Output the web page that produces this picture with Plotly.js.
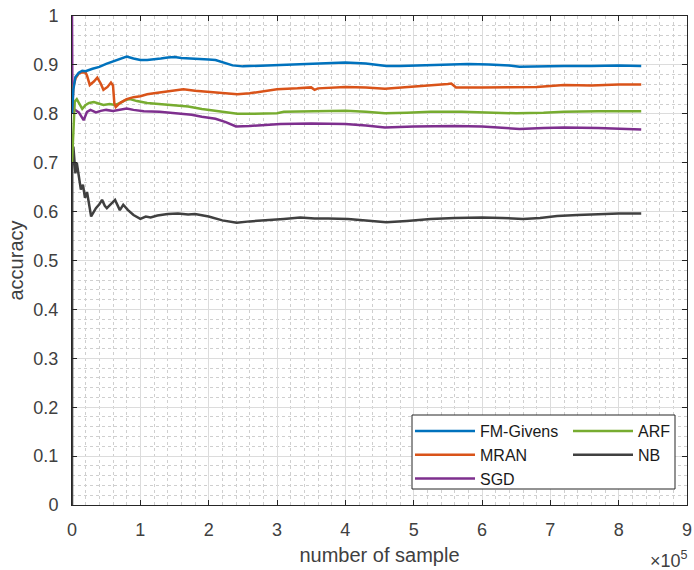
<!DOCTYPE html>
<html>
<head>
<meta charset="utf-8">
<script src="https://cdn.plot.ly/plotly-3.0.1.min.js"></script>
<style>html,body{margin:0;padding:0;background:#fff;}#chart{width:694px;height:570px;}</style>
</head>
<body>
<div id="chart"></div>
<script>
// x positions are in number of samples
var fmX = [0,2000,5000,10000,15000,20000,30000,40000,50000,60000,70000,80000,90000,100000,110000,120000,130000,140000,150000,160000,180000,190000,200000,210000,220000,235000,250000,270000,300000,330000,360000,400000,430000,450000,460000,480000,520000,550000,580000,610000,640000,655000,680000,720000,760000,800000,833000];
var fmY = [0.80,0.85,0.875,0.884,0.888,0.887,0.892,0.896,0.902,0.907,0.913,0.917,0.913,0.910,0.910,0.911,0.913,0.915,0.916,0.914,0.913,0.913,0.911,0.910,0.905,0.899,0.897,0.898,0.900,0.902,0.904,0.905,0.903,0.900,0.898,0.898,0.900,0.901,0.902,0.901,0.899,0.896,0.897,0.898,0.898,0.899,0.898];

var mranX = [0,2000,5000,10000,15000,20000,22000,26000,32000,37000,42000,46000,52000,57000,60000,62000,64000,70000,80000,90000,100000,110000,120000,135000,150000,163000,180000,200000,220000,242000,260000,280000,300000,330000,350000,355000,360000,400000,430000,458000,490000,520000,550000,555000,562000,600000,650000,680000,720000,760000,800000,833000];
var mranY = [0.80,0.855,0.872,0.883,0.885,0.884,0.878,0.859,0.866,0.874,0.862,0.849,0.855,0.864,0.858,0.821,0.814,0.822,0.830,0.834,0.836,0.840,0.842,0.845,0.848,0.850,0.847,0.845,0.843,0.840,0.842,0.846,0.850,0.852,0.854,0.849,0.852,0.855,0.854,0.851,0.854,0.857,0.861,0.862,0.854,0.854,0.855,0.855,0.859,0.858,0.860,0.860];

var arfX = [0,2000,4000,7000,10000,15000,20000,25000,32000,40000,46000,55000,63000,70000,78000,85000,95000,110000,128000,150000,170000,190000,210000,230000,242000,260000,280000,300000,310000,350000,400000,430000,458000,490000,525000,570000,610000,650000,690000,720000,770000,833000];
var arfY = [0.70,0.78,0.825,0.830,0.822,0.810,0.818,0.822,0.824,0.821,0.818,0.820,0.818,0.822,0.828,0.830,0.826,0.822,0.820,0.818,0.815,0.810,0.806,0.802,0.800,0.800,0.800,0.801,0.804,0.805,0.806,0.804,0.801,0.802,0.804,0.804,0.803,0.801,0.802,0.804,0.805,0.805];

var sgdX = [0,500,2000,5000,10000,17000,22000,27000,35000,42000,50000,60000,70000,80000,90000,105000,128000,150000,175000,190000,210000,225000,240000,260000,280000,305000,350000,400000,430000,458000,500000,525000,560000,600000,630000,655000,690000,720000,770000,800000,833000];
var sgdY = [1.0,0.85,0.81,0.808,0.803,0.787,0.804,0.808,0.803,0.806,0.808,0.806,0.808,0.811,0.808,0.805,0.804,0.801,0.798,0.794,0.790,0.783,0.774,0.775,0.777,0.779,0.780,0.779,0.776,0.772,0.774,0.775,0.775,0.774,0.772,0.769,0.771,0.772,0.771,0.770,0.768];

var nbX = [0,300,2000,4000,5000,7000,10000,13000,16000,19000,22000,28000,35000,40000,44000,48000,51000,57000,63000,70000,75000,82000,90000,100000,108000,115000,125000,140000,155000,170000,180000,188000,200000,220000,241000,260000,285000,310000,334000,355000,375000,404000,430000,460000,490000,525000,560000,600000,630000,660000,685000,710000,740000,770000,800000,833000];
var nbY = [0.0,0.70,0.733,0.69,0.678,0.70,0.667,0.645,0.655,0.628,0.64,0.59,0.607,0.615,0.624,0.612,0.607,0.615,0.624,0.603,0.614,0.603,0.593,0.585,0.590,0.588,0.592,0.595,0.596,0.594,0.595,0.593,0.590,0.582,0.577,0.580,0.582,0.585,0.588,0.586,0.586,0.585,0.582,0.578,0.581,0.585,0.587,0.588,0.587,0.585,0.587,0.591,0.593,0.595,0.596,0.596];

var seriesNames = ['FM-Givens','MRAN','ARF','SGD','NB'];
var xTickVals = [0,100000,200000,300000,400000,500000,600000,700000,800000,900000];
var xTickText = ['0','1','2','3','4','5','6','7','8','9'];
var yTickVals = [0,0.1,0.2,0.3,0.4,0.5,0.6,0.7,0.8,0.9,1];
var yTickText = ['0','0.1','0.2','0.3','0.4','0.5','0.6','0.7','0.8','0.9','1'];

var FONT = 'Liberation Sans, Arial, Helvetica, sans-serif';
var LW = 2.5;

var traces = [
  {x: nbX, y: nbY, name: seriesNames[4], legend: 'legend2', legendrank: 2, line: {color: '#404040', width: LW}},
  {x: sgdX, y: sgdY, name: seriesNames[3], legend: 'legend', legendrank: 3, line: {color: '#7E2F8E', width: LW}},
  {x: arfX, y: arfY, name: seriesNames[2], legend: 'legend2', legendrank: 1, line: {color: '#77AC30', width: LW}},
  {x: mranX, y: mranY, name: seriesNames[1], legend: 'legend', legendrank: 2, line: {color: '#D95319', width: LW}},
  {x: fmX, y: fmY, name: seriesNames[0], legend: 'legend', legendrank: 1, line: {color: '#0072BD', width: LW}}
];
traces.forEach(function(t){ t.type = 'scatter'; t.mode = 'lines'; t.hoverinfo = 'skip'; });

var L = 72, R = 7, T = 16, B = 65;
var PW = 694 - L - R, PH = 570 - T - B;
function px2x(p){ return (p - L) / PW; }
function px2y(p){ return (570 - B - p) / PH; }

var legendCommon = {
  bgcolor: 'rgba(0,0,0,0)', borderwidth: 0,
  font: {family: FONT, size: 16, color: '#1a1a1a'},
  itemwidth: 60, tracegroupgap: 0,
  xanchor: 'left', yanchor: 'top', orientation: 'v', traceorder: 'normal'
};

var layout = {
  width: 694, height: 570,
  margin: {l: L, r: R, t: T, b: B, pad: 0},
  paper_bgcolor: '#ffffff', plot_bgcolor: '#ffffff',
  font: {family: FONT, size: 18, color: '#404040'},
  showlegend: true,
  legend: Object.assign({}, legendCommon, {x: px2x(410), y: px2y(414)}),
  legend2: Object.assign({}, legendCommon, {x: px2x(568), y: px2y(414)}),
  xaxis: {
    range: [0, 900000], tickvals: xTickVals, ticktext: xTickText,
    showline: true, linecolor: '#262626', linewidth: 1, mirror: 'ticks',
    ticks: 'inside', ticklen: 5, tickcolor: '#262626', tickwidth: 1,
    showgrid: true, gridcolor: '#dcdcdc', gridwidth: 1, zeroline: false,
    ticklabelstandoff: 8,
    tickfont: {family: FONT, size: 18, color: '#404040'},
    minor: {dtick: 20000, tick0: 0, showgrid: true, gridcolor: '#cfcfcf', griddash: 'dot', gridwidth: 1, ticks: ''},
    title: {text: 'number of sample', font: {family: FONT, size: 20, color: '#404040'}, standoff: 9},
    fixedrange: true
  },
  yaxis: {
    range: [0, 1], tickvals: yTickVals, ticktext: yTickText,
    showline: true, linecolor: '#262626', linewidth: 1, mirror: 'ticks',
    ticks: 'inside', ticklen: 5, tickcolor: '#262626', tickwidth: 1,
    showgrid: true, gridcolor: '#dcdcdc', gridwidth: 1, zeroline: false,
    ticklabelstandoff: 9,
    tickfont: {family: FONT, size: 18, color: '#404040'},
    minor: {dtick: 0.02, tick0: 0, showgrid: true, gridcolor: '#cfcfcf', griddash: 'dot', gridwidth: 1, ticks: ''},
    title: {text: 'accuracy', font: {family: FONT, size: 20, color: '#404040'}, standoff: 4},
    fixedrange: true
  },
  shapes: [{
    type: 'rect', xref: 'paper', yref: 'paper', layer: 'above',
    x0: px2x(412), x1: px2x(675), y0: px2y(489), y1: px2y(415),
    fillcolor: '#ffffff', line: {color: '#262626', width: 1}
  }],
  annotations: [{
    xref: 'paper', yref: 'paper', x: px2x(690), y: px2y(559),
    xanchor: 'right', yanchor: 'middle', showarrow: false,
    text: '\u00d710<sup>5</sup>', font: {family: FONT, size: 18, color: '#404040'}
  }]
};

Plotly.newPlot('chart', traces, layout, {staticPlot: true, displayModeBar: false});
</script>
</body>
</html>
